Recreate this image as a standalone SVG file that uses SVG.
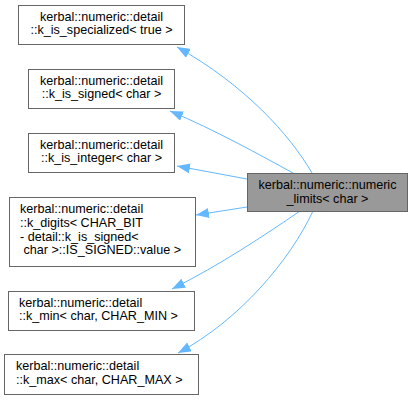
<svg xmlns="http://www.w3.org/2000/svg" width="413" height="400" viewBox="0 0 413 400">
<defs>
<style>
.box{fill:#ffffff;stroke:#666666;stroke-width:1}
.main{fill:#999999;stroke:#666666;stroke-width:1}
text{font-family:"Liberation Sans",Arial,sans-serif;font-size:12.6px;fill:#000000}
.edge{fill:none;stroke:#63b8ff;stroke-width:1}
</style>
<marker id="ah" markerWidth="14" markerHeight="10" refX="13" refY="5" orient="auto" markerUnits="userSpaceOnUse">
<path d="M0,0 L13,5 L0,10 Z" fill="#63b8ff"/>
</marker>
</defs>
<rect width="413" height="400" fill="#ffffff"/>
<g id="connectors">
<path class="edge" d="M312,173 C290,135 245,85 177,47" marker-end="url(#ah)"/>
<path class="edge" d="M293,173 C260,155 215,130 170,111" marker-end="url(#ah)"/>
<path class="edge" d="M247,179 L177,166" marker-end="url(#ah)"/>
<path class="edge" d="M247,207 L196,215" marker-end="url(#ah)"/>
<path class="edge" d="M300,211 C265,235 220,265 172,289" marker-end="url(#ah)"/>
<path class="edge" d="M313,211 C290,260 240,320 178,353" marker-end="url(#ah)"/>
</g>
<g id="node-main">
<rect class="main" x="247.5" y="173.5" width="160" height="38"/>
<text x="327.5" y="189" text-anchor="middle">kerbal::numeric::numeric</text>
<text x="327.5" y="203" text-anchor="middle">_limits&lt; char &gt;</text>
</g>
<g id="node-specialized">
<rect class="box" x="18.5" y="5.5" width="166" height="39"/>
<text x="101.5" y="20.5" text-anchor="middle">kerbal::numeric::detail</text>
<text x="101.5" y="34" text-anchor="middle">::k_is_specialized&lt; true &gt;</text>
</g>
<g id="node-signed">
<rect class="box" x="28.5" y="69.5" width="146" height="39"/>
<text x="101.5" y="84.5" text-anchor="middle">kerbal::numeric::detail</text>
<text x="101.5" y="98" text-anchor="middle">::k_is_signed&lt; char &gt;</text>
</g>
<g id="node-integer">
<rect class="box" x="28.5" y="133.5" width="146" height="39"/>
<text x="101.5" y="148.5" text-anchor="middle">kerbal::numeric::detail</text>
<text x="101.5" y="162" text-anchor="middle">::k_is_integer&lt; char &gt;</text>
</g>
<g id="node-digits">
<rect class="box" x="9.5" y="197.5" width="186" height="69"/>
<text x="20" y="213">kerbal::numeric::detail</text>
<text x="20" y="227">::k_digits&lt; CHAR_BIT</text>
<text x="20" y="240.5">- detail::k_is_signed&lt;</text>
<text x="20" y="254" xml:space="preserve"> char &gt;::IS_SIGNED::value &gt;</text>
</g>
<g id="node-min">
<rect class="box" x="8.5" y="291.5" width="186" height="39"/>
<text x="19" y="306.5">kerbal::numeric::detail</text>
<text x="19" y="320">::k_min&lt; char, CHAR_MIN &gt;</text>
</g>
<g id="node-max">
<rect class="box" x="4.5" y="354.5" width="194" height="40"/>
<text x="16" y="370">kerbal::numeric::detail</text>
<text x="16" y="383.5">::k_max&lt; char, CHAR_MAX &gt;</text>
</g>
</svg>
